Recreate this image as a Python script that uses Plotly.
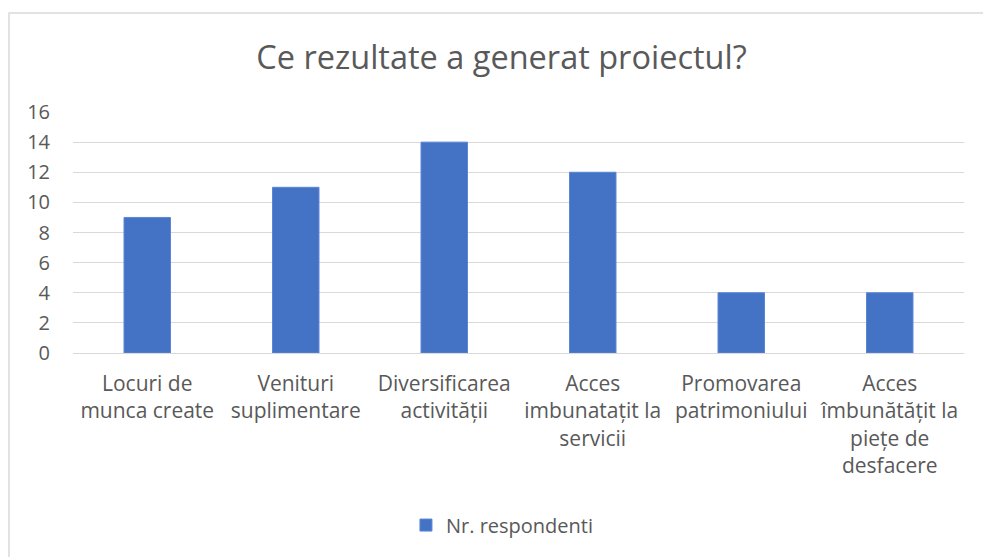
import plotly.graph_objects as go

categories = [
    "Locuri de<br>munca create",
    "Venituri<br>suplimentare",
    "Diversificarea<br>activității",
    "Acces<br>imbunatațit la<br>servicii",
    "Promovarea<br>patrimoniului",
    "Acces<br>îmbunătățit la<br>piețe de<br>desfacere",
]
values = [9, 11, 14, 12, 4, 4]
series_name = "Nr. respondenti"
y_ticks = [0, 2, 4, 6, 8, 10, 12, 14, 16]

FONT = "Open Sans"
GRAY = "#595959"

fig = go.Figure()
fig.add_trace(go.Bar(
    x=categories, y=values, name=series_name,
    marker=dict(color="#4472C4", line=dict(color="#5a86d6", width=1)),
    showlegend=True,
))

fig.update_layout(
    width=983, height=557,
    margin=dict(l=73, r=19, t=112, b=204),
    paper_bgcolor="white", plot_bgcolor="white",
    bargap=0.687,
    title=dict(text="Ce rezultate a generat proiectul?", x=501.5 / 983, xref="container",
               xanchor="center", y=1 - 58 / 557, yanchor="middle",
               font=dict(family=FONT, size=32.5, color=GRAY)),
    showlegend=True,
    legend=dict(orientation="h", x=0.482, xanchor="center", y=-0.714, yanchor="middle",
                font=dict(family=FONT, size=20, color=GRAY), itemwidth=30),
    font=dict(family=FONT, color=GRAY),
)
fig.update_xaxes(
    showgrid=False, showline=False, zeroline=False,
    tickfont=dict(family=FONT, size=21, color=GRAY), tickangle=0,
    ticklabelstandoff=16,
)
fig.update_yaxes(
    range=[0, 16], tickvals=y_ticks, showgrid=True, gridcolor="#d9d9d9", gridwidth=1,
    zeroline=True, zerolinecolor="#d9d9d9", zerolinewidth=1, showline=False,
    tickfont=dict(family=FONT, size=20, color=GRAY), ticklabelstandoff=22,
)
fig.add_shape(type="rect", xref="paper", yref="paper",
              x0=(9 - 73) / 891, x1=1.1, y0=-1.0, y1=(353 - 13) / 241,
              line=dict(color="#d9d9d9", width=1.5), fillcolor="rgba(0,0,0,0)", layer="below")

fig.write_html("out.html", config={"displayModeBar": False},
               post_script="document.body.style.margin='0';document.body.style.padding='0';document.body.style.overflow='hidden';")
